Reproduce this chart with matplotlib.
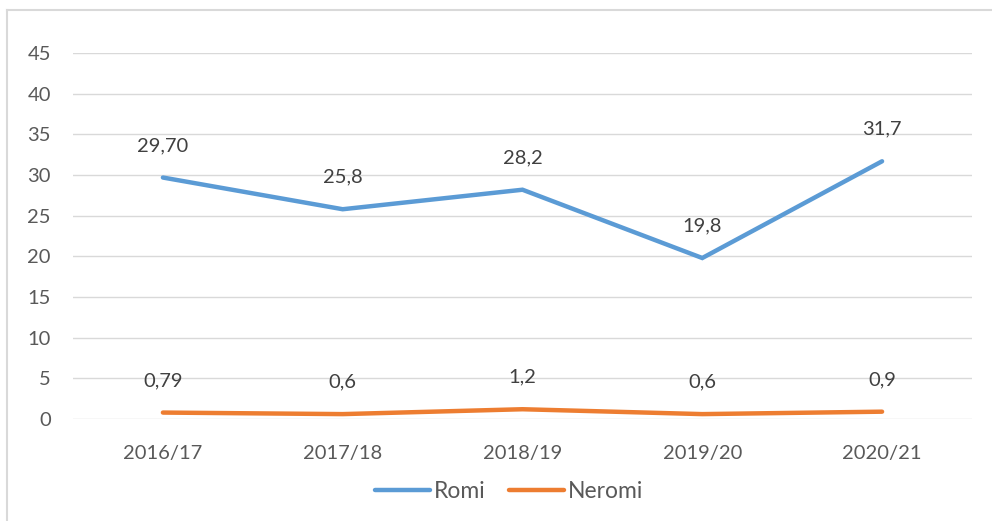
import matplotlib
matplotlib.use("Agg")
import matplotlib.pyplot as plt
from matplotlib.lines import Line2D

# data
seasons = ["2016/17", "2017/18", "2018/19", "2019/20", "2020/21"]
romi = [29.7, 25.8, 28.2, 19.8, 31.7]
neromi = [0.79, 0.6, 1.2, 0.6, 0.9]
romi_labels = ["29,70", "25,8", "28,2", "19,8", "31,7"]
neromi_labels = ["0,79", "0,6", "1,2", "0,6", "0,9"]
yticks = [0, 5, 10, 15, 20, 25, 30, 35, 40, 45]

plt.rcParams['font.family'] = ['Lato', 'DejaVu Sans']

fig = plt.figure(figsize=(9.92, 5.21), dpi=100)
ax = fig.add_axes([0.0736, 0.1958, 0.9062, 0.7022])

x = list(range(len(seasons)))
blue = "#5B9BD5"
orange = "#ED7D31"
ax.plot(x, romi, color=blue, lw=3.2, solid_capstyle="round", solid_joinstyle="miter", label="Romi")
ax.plot(x, neromi, color=orange, lw=3.2, solid_capstyle="round", label="Neromi")

# data labels above points
for xi, v, t in zip(x, romi, romi_labels):
    ax.annotate(t, (xi, v), xytext=(0, 23), textcoords="offset points",
                ha="center", va="center", fontsize=14.5, color="#404040")
for xi, v, t in zip(x, neromi, neromi_labels):
    ax.annotate(t, (xi, v), xytext=(0, 23), textcoords="offset points",
                ha="center", va="center", fontsize=14.5, color="#404040")

ax.set_xlim(-0.5, len(seasons) - 0.5)
ax.set_ylim(0, 45)
ax.set_yticks(yticks)
ax.set_yticklabels([str(v) for v in yticks])
ax.set_xticks(x)
ax.set_xticklabels(seasons)
ax.grid(axis="y", color="#D9D9D9", lw=1.0)
ax.set_axisbelow(True)
for s in ax.spines.values():
    s.set_visible(False)
ax.tick_params(axis="both", length=0, labelsize=14.5, labelcolor="#595959")
ax.tick_params(axis="y", pad=16)
ax.tick_params(axis="x", pad=19)

ax.legend(loc="center", bbox_to_anchor=(509 / 992, 1 - 492 / 521), bbox_transform=fig.transFigure,
          ncol=2, frameon=False, fontsize=16.5, handlelength=2.4, handletextpad=0.2,
          columnspacing=1.0, labelcolor="#595959")

# chart area border (top and left visible)
fig.add_artist(Line2D([7 / 992, 7 / 992], [0, 1 - 10 / 521], transform=fig.transFigure, color="#D9D9D9", lw=1.5))
fig.add_artist(Line2D([7 / 992, 1], [1 - 10 / 521, 1 - 10 / 521], transform=fig.transFigure, color="#D9D9D9", lw=1.5))

fig.savefig("out.png", dpi=100)
